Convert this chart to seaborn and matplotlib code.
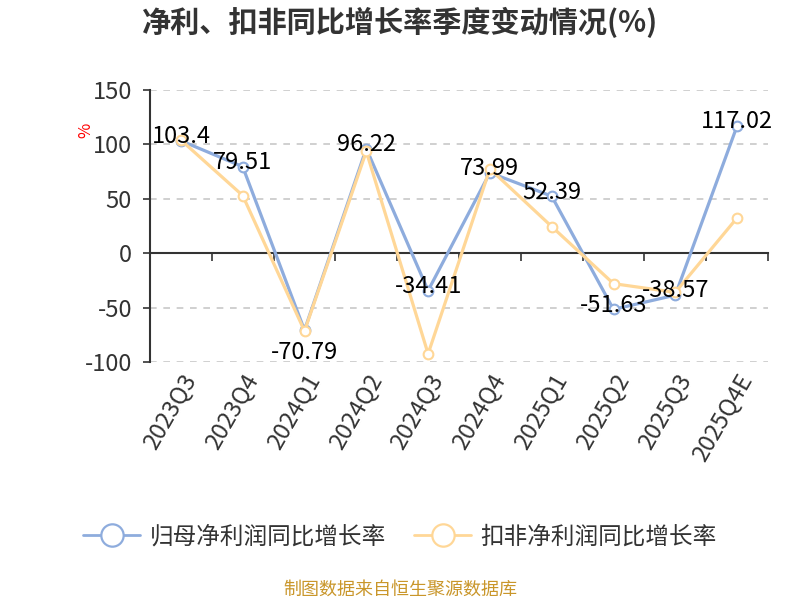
import pandas as pd
import matplotlib.pyplot as plt
import seaborn as sns

quarters = ["2023Q3", "2023Q4", "2024Q1", "2024Q2", "2024Q3",
            "2024Q4", "2025Q1", "2025Q2", "2025Q3", "2025Q4E"]
net_growth = [103.4, 79.51, -70.79, 96.22, -34.41, 73.99, 52.39, -51.63, -38.57, 117.02]
deducted_growth = [104.0, 53.0, -71.5, 93.5, -92.5, 77.5, 24.5, -28.0, -36.0, 32.5]
series_names = ["归母净利润同比增长率", "扣非净利润同比增长率"]
y_ticks = [-100, -50, 0, 50, 100, 150]

sns.set_theme(style="white")
plt.rcParams['font.family'] = ['Noto Sans CJK SC', 'DejaVu Sans']

blue = "#8EACDD"
orange = "#FFD797"
dark = "#333333"

df = pd.DataFrame({"pos": range(len(quarters)), "q": quarters,
                   "net": net_growth, "ded": deducted_growth})

fig = plt.figure(figsize=(8, 6), dpi=100)
ax = fig.add_axes([0.1875, 0.3967, 0.7725, 0.4533])

for col, color, name in [("net", blue, series_names[0]), ("ded", orange, series_names[1])]:
    sns.lineplot(data=df, x="pos", y=col, ax=ax, color=color, linewidth=2.3,
                 marker="o", markersize=7, markerfacecolor="white",
                 markeredgecolor=color, markeredgewidth=1.5, sort=False, label=name)

# value labels for the first series
for i, v in enumerate(net_growth):
    dy = -16 if v < -60 else 3
    ax.annotate(f"{v:g}", (i, v), xytext=(0, dy), textcoords="offset points",
                ha="center", va="center", fontsize=17, color="black")

ax.set_xlim(-0.5, len(quarters) - 0.5)
ax.set_ylim(y_ticks[0], y_ticks[-1])
ax.set_yticks(y_ticks)
ax.set_yticklabels([str(t) for t in y_ticks], fontsize=17, color=dark)
ax.set_xticks(df["pos"])
ax.set_xticklabels(quarters, rotation=60, ha="right", rotation_mode="anchor",
                   fontsize=17, color=dark)
ax.tick_params(axis="x", length=0, pad=6)
ax.tick_params(axis="y", length=5, width=1.2, color=dark, direction="out", left=True, pad=8)
ax.set_xlabel("")
ax.set_ylabel("")

for t in y_ticks:
    if t != 0:
        ax.axhline(t, color="#C8C8C8", linestyle=(0, (4, 4)), linewidth=1.2, zorder=0)

for s in ["top", "right", "bottom"]:
    ax.spines[s].set_visible(False)
ax.spines["left"].set_color(dark)
ax.spines["left"].set_linewidth(1.5)

# zero axis line with boundary ticks
zero_frac = (0 - y_ticks[0]) / (y_ticks[-1] - y_ticks[0])
sec = ax.secondary_xaxis(zero_frac)
sec.set_xticks([i + 0.5 for i in range(len(quarters))])
sec.set_xticklabels([])
sec.tick_params(axis="x", length=6, width=1.2, color=dark, direction="out")
sec.spines["bottom"].set_color(dark)
sec.spines["bottom"].set_linewidth(1.5)

fig.text(0.5, 0.962, "净利、扣非同比增长率季度变动情况(%)", ha="center", va="center",
         fontsize=21, fontweight="bold", color=dark)
fig.text(0.107, 0.783, "%", ha="center", va="center", rotation=90, fontsize=12, color="red")

handles, labels = ax.get_legend_handles_labels()
ax.legend_.remove()
leg = fig.legend(handles, labels, loc="center", bbox_to_anchor=(0.5, 0.105), ncol=2,
                 frameon=False, fontsize=17, handlelength=2.4, columnspacing=1.2,
                 handletextpad=0.4, markerscale=2.3)
for h in leg.legend_handles:
    h.set_linewidth(2.0)
    h.set_markeredgewidth(1.6)
for t in leg.get_texts():
    t.set_color(dark)

fig.text(0.5, 0.017, "制图数据来自恒生聚源数据库", ha="center", va="center",
         fontsize=13, color="#C9962A")

fig.savefig("out.png", dpi=100, facecolor="white")
plt.close(fig)
